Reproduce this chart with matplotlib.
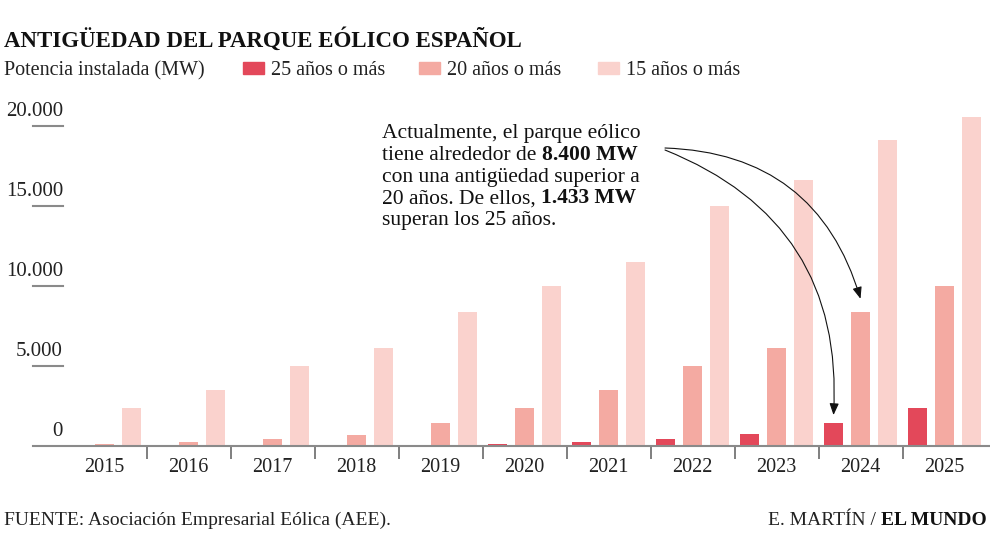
import matplotlib
matplotlib.use("Agg")
import matplotlib.pyplot as plt
import numpy as np

# Datos (MW instalados con cierta antigüedad)
years = ["2015", "2016", "2017", "2018", "2019", "2020",
         "2021", "2022", "2023", "2024", "2025"]
mw_25 = [0, 0, 0, 0, 0, 110, 220, 420, 730, 1433, 2350]
mw_20 = [120, 220, 420, 700, 1450, 2350, 3500, 5000, 6150, 8400, 10000]
mw_15 = [2350, 3500, 5000, 6150, 8400, 10000, 11500, 15000, 16600, 19100, 20550]
series_labels = ["25 años o más", "20 años o más", "15 años o más"]
yticks = [0, 5000, 10000, 15000, 20000]
ytick_labels = ["0", "5.000", "10.000", "15.000", "20.000"]

colors = ["#e3485a", "#f4aaa2", "#fad2cd"]
FONT = "Liberation Serif"
W, H = 990, 544


def fpos(x, y):
    """ Pixel position (from top-left) to figure fraction. """
    return x / W, 1 - y / H


fig = plt.figure(figsize=(W / 100, H / 100), dpi=100)
ax = fig.add_axes([33 / W, 98 / H, 957 / W, 336 / H])

x = np.arange(len(years))
offset = 27 / 84
width = 18.5 / 84
for i, vals in enumerate([mw_25, mw_20, mw_15]):
    ax.bar(x + (i - 1) * offset, vals, width=width, color=colors[i], zorder=2)

ax.set_xlim(-71.5 / 84, len(years) - 1 + 45.5 / 84)
ax.set_ylim(0, 21000)

# Ejes
for s in ["top", "right", "left"]:
    ax.spines[s].set_visible(False)
ax.spines["bottom"].set_color("#8a8a8a")
ax.spines["bottom"].set_linewidth(1.5)
ax.set_yticks([])
ax.set_xticks(x[:-1] + 0.5, minor=False)
ax.set_xticklabels([])
ax.tick_params(axis="x", length=9, width=1.2, color="#6a6a6a")
for xi, lab in zip(x, years):
    ax.text(xi, -1350, lab, ha="center", va="center", fontsize=14.5,
            family=FONT, color="#222222")

# Etiquetas del eje Y con subrayado corto
for val, lab in zip(yticks, ytick_labels):
    if val > 0:
        ax.plot([0, 30 / 957], [val, val], color="#8a8a8a", lw=1.5,
                transform=ax.get_yaxis_transform(), clip_on=False)
    ax.text(30 / 957, val + 600, lab, ha="right", va="baseline", fontsize=15,
            family=FONT, color="#222222", transform=ax.get_yaxis_transform())

# Título y leyenda
fig.text(*fpos(4, 47), "ANTIGÜEDAD DEL PARQUE EÓLICO ESPAÑOL", fontsize=16.5,
         weight="bold", family=FONT, color="#111111", va="baseline")
fig.text(*fpos(4, 75), "Potencia instalada (MW)", fontsize=14.5, family=FONT,
         color="#222222", va="baseline")
for sx, lab, col in zip([243, 419, 598], series_labels, colors):
    fig.patches.append(plt.Rectangle(fpos(sx, 74), 21 / W, 12 / H,
                                     color=col, transform=fig.transFigure))
    fig.text(*fpos(sx + 28, 75), lab, fontsize=14.5, family=FONT,
             color="#222222", va="baseline")

# Anotación con partes en negrita
lines = [
    [("Actualmente, el parque eólico", "normal")],
    [("tiene alrededor de ", "normal"), ("8.400 MW", "bold")],
    [("con una antigüedad superior a", "normal")],
    [("20 años. De ellos, ", "normal"), ("1.433 MW", "bold")],
    [("superan los 25 años.", "normal")],
]
fig.canvas.draw()
renderer = fig.canvas.get_renderer()
for k, parts in enumerate(lines):
    px = 382
    py = 138 + k * 21.8
    for txt, wt in parts:
        t = fig.text(*fpos(px, py), txt, fontsize=15.5, family=FONT,
                     weight=wt, color="#111111", va="baseline")
        px += t.get_window_extent(renderer).width

# Flechas hacia 2024
i24 = years.index("2024")
start = fpos(665, 148)
ax.annotate("", xy=(i24, mw_20[i24] + 800), xytext=start,
            textcoords="figure fraction",
            arrowprops=dict(arrowstyle="-|>,head_length=0.7,head_width=0.28",
                            color="#111111", lw=0.8,
                            connectionstyle="arc3,rad=-0.36", shrinkA=0, shrinkB=0))
ax.annotate("", xy=(i24 - offset, mw_25[i24] + 500), xytext=fpos(665, 150),
            textcoords="figure fraction",
            arrowprops=dict(arrowstyle="-|>,head_length=0.7,head_width=0.28",
                            color="#111111", lw=0.8,
                            connectionstyle="arc3,rad=-0.36", shrinkA=0, shrinkB=0))

# Pie
fig.text(*fpos(4, 525), "FUENTE: Asociación Empresarial Eólica (AEE).",
         fontsize=14, family=FONT, color="#222222", va="baseline")
t2 = fig.text(*fpos(987, 525), "EL MUNDO", fontsize=14, family=FONT,
              weight="bold", color="#111111", va="baseline", ha="right")
wb = t2.get_window_extent(renderer).width
fig.text(*fpos(987 - wb, 525), "E. MARTÍN / ", fontsize=14, family=FONT,
         color="#222222", va="baseline", ha="right")

fig.savefig("out.png", dpi=100)
